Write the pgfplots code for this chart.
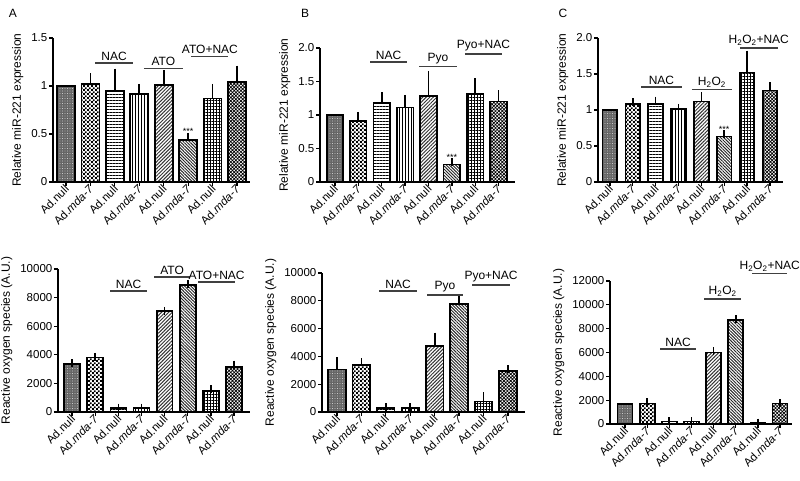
\documentclass[border=0pt]{standalone}
\usepackage{fontspec}
\setmainfont{Liberation Sans}
\usepackage{pgfplots}
\pgfplotsset{compat=1.18}
\usetikzlibrary{patterns,patterns.meta}
\pgfdeclarepatternformonly{smallcheck}{\pgfpointorigin}{\pgfqpoint{4.2pt}{4.2pt}}{\pgfqpoint{4.2pt}{4.2pt}}{%
  \pgfpathrectangle{\pgfpointorigin}{\pgfqpoint{2.1pt}{2.1pt}}%
  \pgfpathrectangle{\pgfqpoint{2.1pt}{2.1pt}}{\pgfqpoint{2.1pt}{2.1pt}}%
  \pgfusepath{fill}}
\newcommand{\tkf}{\fontsize{11.5}{12}\selectfont}
\newcommand{\lbf}{\fontsize{12}{14}\selectfont}
\tikzset{
  grp/.style={line width=1.3pt, black!75},
  gl/.style={font=\lbf, inner sep=2pt, text=black},
  star/.style={font=\fontsize{9}{10}\selectfont, inner sep=1pt, anchor=south},
}
\pgfplotsset{
  panel/.style={
    scale only axis, axis lines=left, axis line style={-, line width=1.5pt},
    ymin=0, xtick={1,2,3,4,5,6,7,8},
    xticklabels={Ad.null,Ad.\textit{mda-7},Ad.null,Ad.\textit{mda-7},Ad.null,Ad.\textit{mda-7},Ad.null,Ad.\textit{mda-7}},
    xticklabel style={rotate=45, anchor=east, inner sep=1pt, font=\tkf, yshift=-1.5pt, xshift=1pt},
    yticklabel style={font=\tkf, inner sep=1.5pt},
    scaled y ticks=false,
    tick align=outside, major tick length=4pt, tick style={line width=1.3pt, black},
    ylabel style={font=\lbf, yshift=3pt},
    clip=false, ybar,
    /pgf/number format/assume math mode=true,
  },
  bb/.style={draw=black, line width=1.7pt, bar shift=0pt,
    error bars/y dir=plus, error bars/y explicit,
    error bars/error bar style={line width=1.7pt, black},
    error bars/error mark options={line width=1.7pt, mark size=4pt, black}},
  p1/.style={bb, fill=black!60, postaction={pattern={Dots[distance=2.5pt,radius=0.45pt]}, pattern color=white}},
  p2/.style={bb, pattern=smallcheck, pattern color=black},
  p3/.style={bb, pattern={Lines[angle=0,distance=3pt,line width=0.7pt]}, pattern color=black},
  p4/.style={bb, pattern={Lines[angle=90,distance=3pt,line width=0.7pt]}, pattern color=black},
  p5/.style={bb, pattern={Lines[angle=45,distance=2.5pt,line width=1pt]}, pattern color=black!80},
  p6/.style={bb, pattern={Lines[angle=-45,distance=2.2pt,line width=0.95pt]}, pattern color=black!85},
  p7/.style={bb, pattern={Hatch[angle=0,distance=3pt,line width=0.7pt]}, pattern color=black},
  p8/.style={bb, pattern={Hatch[angle=45,distance=2.4pt,line width=0.7pt]}, pattern color=black},
}
\begin{document}
\begin{tikzpicture}[x=1pt,y=1pt]
\useasboundingbox (0,0) rectangle (800,481);
\node[font=\lbf] at (13,468) {A};
\node[font=\lbf] at (305,468) {B};
\node[font=\lbf] at (563,468) {C};

% ---------- A top ----------
\begin{axis}[panel, at={(53pt,299pt)}, anchor=south west, width=197pt, height=144pt,
  xmin=0.47, xmax=8.53, ymax=1.5, ytick={0,0.5,1,1.5}, yticklabels={0,0.5,1,1.5},
  bar width=0.74, ylabel={Relative miR-221 expression}]
\addplot[p1] coordinates {(1,1.00)};
\addplot[p2] coordinates {(2,1.02) +- (0,0.07)};
\addplot[p3] coordinates {(3,0.95) +- (0,0.19)};
\addplot[p4] coordinates {(4,0.92) +- (0,0.06)};
\addplot[p5] coordinates {(5,1.01) +- (0,0.11)};
\addplot[p6] coordinates {(6,0.44) +- (0,0.03)};
\addplot[p7] coordinates {(7,0.87) +- (0,0.11)};
\addplot[p8] coordinates {(8,1.04) +- (0,0.13)};
\node[star] at (axis cs:6,0.48) {***};
\draw[grp] (axis cs:2.19,1.24) -- (axis cs:3.75,1.24) node[midway, above, gl] {NAC};
\draw[grp] (axis cs:4.19,1.18) -- (axis cs:5.78,1.18) node[midway, above, gl] {ATO};
\draw[grp] (axis cs:6.13,1.31) -- (axis cs:7.65,1.31) node[midway, above, gl] {ATO+NAC};
\end{axis}

% ---------- B top ----------
\begin{axis}[panel, at={(320pt,299pt)}, anchor=south west, width=195pt, height=134pt,
  xmin=0.36, xmax=8.7, ymax=2, ytick={0,0.5,1,1.5,2}, yticklabels={0,0.5,1,1.5,2.0},
  bar width=0.71, ylabel={Relative miR-221 expression}]
\addplot[p1] coordinates {(1,1.00)};
\addplot[p2] coordinates {(2,0.91) +- (0,0.075)};
\addplot[p3] coordinates {(3,1.18) +- (0,0.10)};
\addplot[p4] coordinates {(4,1.11) +- (0,0.13)};
\addplot[p5] coordinates {(5,1.28) +- (0,0.32)};
\addplot[p6] coordinates {(6,0.26) +- (0,0.04)};
\addplot[p7] coordinates {(7,1.31) +- (0,0.18)};
\addplot[p8] coordinates {(8,1.20) +- (0,0.11)};
\node[star] at (axis cs:6,0.31) {***};
\draw[grp] (axis cs:2.5,1.79) -- (axis cs:4.08,1.79) node[midway, above, gl] {NAC};
\draw[grp] (axis cs:4.6,1.72) -- (axis cs:6.21,1.72) node[midway, above, gl] {Pyo};
\draw[grp] (axis cs:6.56,1.91) -- (axis cs:8.14,1.91) node[midway, above, gl] {Pyo+NAC};
\end{axis}

% ---------- C top ----------
\begin{axis}[panel, at={(598pt,299pt)}, anchor=south west, width=185pt, height=144pt,
  xmin=0.48, xmax=8.57, ymax=2, ytick={0,0.5,1,1.5,2}, yticklabels={0,0.5,1,1.5,2.0},
  bar width=0.64, ylabel={Relative miR-221 expression}]
\addplot[p1] coordinates {(1,1.00)};
\addplot[p2] coordinates {(2,1.08) +- (0,0.03)};
\addplot[p3] coordinates {(3,1.08) +- (0,0.05)};
\addplot[p4] coordinates {(4,1.01) +- (0,0.02)};
\addplot[p5] coordinates {(5,1.12) +- (0,0.07)};
\addplot[p6] coordinates {(6,0.63) +- (0,0.03)};
\addplot[p7] coordinates {(7,1.52) +- (0,0.25)};
\addplot[p8] coordinates {(8,1.27) +- (0,0.06)};
\node[star] at (axis cs:6,0.67) {***};
\draw[grp] (axis cs:2.36,1.32) -- (axis cs:4.15,1.32) node[midway, above, gl] {NAC};
\draw[grp] (axis cs:4.59,1.28) -- (axis cs:6.33,1.28) node[midway, above, gl] {H\textsubscript{2}O\textsubscript{2}};
\draw[grp] (axis cs:6.68,1.86) -- (axis cs:8.34,1.86) node[midway, above, gl] {H\textsubscript{2}O\textsubscript{2}+NAC};
\end{axis}

% ---------- A bottom ----------
\begin{axis}[panel, at={(58pt,69pt)}, anchor=south west, width=192pt, height=143pt,
  xmin=0.39, xmax=8.69, ymax=10000, ytick={0,2000,4000,6000,8000,10000},
  yticklabels={0,2000,4000,6000,8000,10000},
  bar width=0.69, ylabel={Reactive oxygen species (A.U.)}]
\addplot[p1] coordinates {(1,3340) +- (0,70)};
\addplot[p2] coordinates {(2,3810) +- (0,50)};
\addplot[p3] coordinates {(3,280) +- (0,20)};
\addplot[p4] coordinates {(4,280) +- (0,20)};
\addplot[p5] coordinates {(5,7050) +- (0,30)};
\addplot[p6] coordinates {(6,8880) +- (0,80)};
\addplot[p7] coordinates {(7,1470) +- (0,110)};
\addplot[p8] coordinates {(8,3150) +- (0,160)};
\draw[grp] (axis cs:2.64,8460) -- (axis cs:4.24,8460) node[midway, above, gl] {NAC};
\draw[grp] (axis cs:4.55,9440) -- (axis cs:6.1,9440) node[midway, above, gl] {ATO};
\draw[grp] (axis cs:6.45,9090) -- (axis cs:8.05,9090) node[midway, above, gl] {ATO+NAC};
\end{axis}

% ---------- B bottom ----------
\begin{axis}[panel, at={(322pt,69pt)}, anchor=south west, width=203pt, height=139pt,
  xmin=0.385, xmax=8.7, ymax=10000, ytick={0,2000,4000,6000,8000,10000},
  yticklabels={0,2000,4000,6000,8000,10000},
  bar width=0.72, ylabel={Reactive oxygen species (A.U.)}]
\addplot[p1] coordinates {(1,3060) +- (0,600)};
\addplot[p2] coordinates {(2,3370) +- (0,220)};
\addplot[p3] coordinates {(3,310) +- (0,20)};
\addplot[p4] coordinates {(4,310) +- (0,20)};
\addplot[p5] coordinates {(5,4770) +- (0,650)};
\addplot[p6] coordinates {(6,7780) +- (0,290)};
\addplot[p7] coordinates {(7,750) +- (0,400)};
\addplot[p8] coordinates {(8,2940) +- (0,120)};
\draw[grp] (axis cs:2.72,8700) -- (axis cs:4.28,8700) node[midway, above, gl] {NAC};
\draw[grp] (axis cs:4.69,8420) -- (axis cs:6.16,8420) node[midway, above, gl] {Pyo};
\draw[grp] (axis cs:6.53,9140) -- (axis cs:8.09,9140) node[midway, above, gl] {Pyo+NAC};
\end{axis}

% ---------- C bottom ----------
\begin{axis}[panel, at={(610pt,57pt)}, anchor=south west, width=182pt, height=143pt,
  xmin=0.32, xmax=8.54, ymax=12000, ytick={0,2000,4000,6000,8000,10000,12000},
  yticklabels={0,2000,4000,6000,8000,10000,12000},
  bar width=0.68, ylabel={Reactive oxygen species (A.U.)}]
\addplot[p1] coordinates {(1,1680)};
\addplot[p2] coordinates {(2,1730) +- (0,80)};
\addplot[p3] coordinates {(3,200) +- (0,20)};
\addplot[p4] coordinates {(4,200) +- (0,20)};
\addplot[p5] coordinates {(5,6000) +- (0,90)};
\addplot[p6] coordinates {(6,8740) +- (0,60)};
\addplot[p7] coordinates {(7,110) +- (0,10)};
\addplot[p8] coordinates {(8,1730) +- (0,30)};
\draw[grp] (axis cs:2.58,6300) -- (axis cs:4.21,6300) node[midway, above, gl] {NAC};
\draw[grp] (axis cs:4.57,10500) -- (axis cs:6.24,10500) node[midway, above, gl] {H\textsubscript{2}O\textsubscript{2}};
\draw[grp] (axis cs:6.74,12600) -- (axis cs:8.33,12600) node[midway, above, gl] {H\textsubscript{2}O\textsubscript{2}+NAC};
\end{axis}
\end{tikzpicture}
\end{document}
